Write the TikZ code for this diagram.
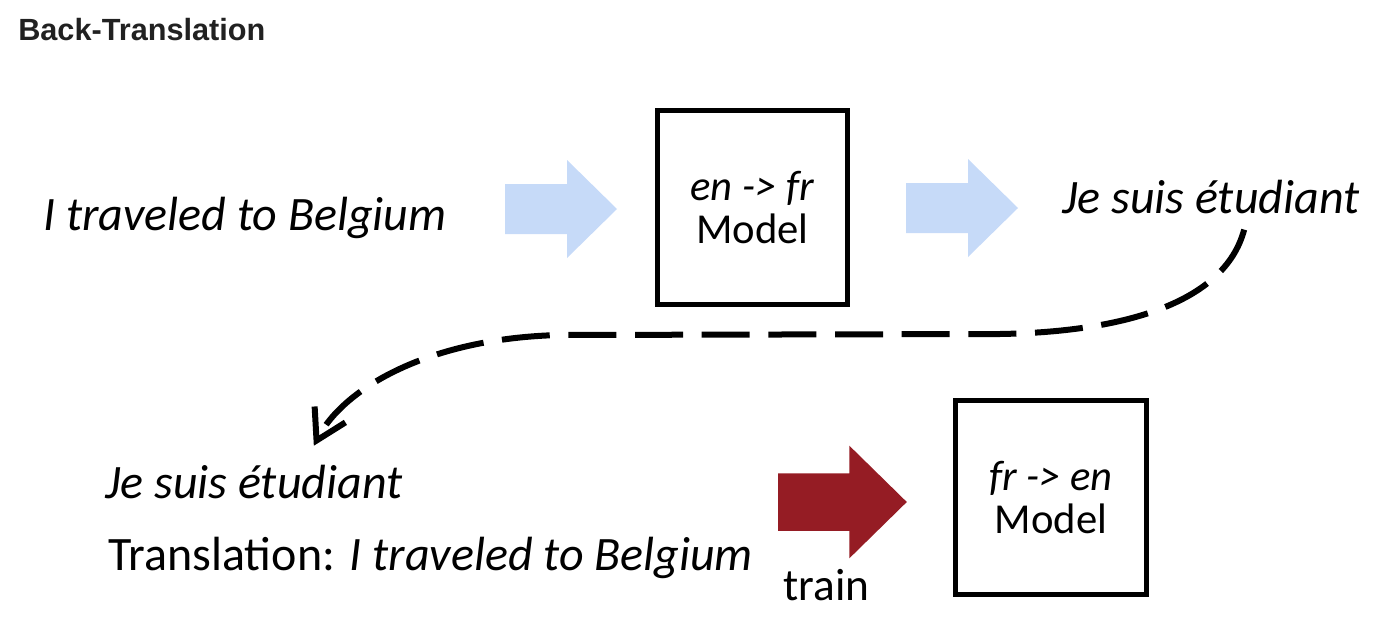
\documentclass[tikz,border=0pt]{standalone}
\usepackage{fontspec}
\setmainfont{Carlito}
\newfontfamily\headfont{Liberation Sans}
\usetikzlibrary{arrows.meta}
\definecolor{lightblue}{HTML}{C6DAF8}
\definecolor{darkred}{HTML}{951C24}
\definecolor{headgray}{HTML}{212121}
\tikzset{ txt/.style = { inner sep = 0pt
                       , anchor    = base west
                       , font      = \fontsize{36}{43}\selectfont
                       },
          mdl/.style = { draw
                       , line width     = 3.75pt
                       , minimum width  = 143pt
                       , minimum height = 146pt
                       , align          = center
                       , font           = \fontsize{32}{32}\selectfont
                       },
          back/.style = { draw = black
                        , line width   = 4.5pt
                        , dash pattern = on 36pt off 14pt
                        , -{Straight Barb[length=22pt, width=26pt]}
                        },
          blk/.pic = { \path[pic actions] (0,-25) -- (62,-25) -- (62,-49) -- (112,0)
                                          -- (62,49) -- (62,25) -- (0,25) -- cycle; }
        }
\begin{document}
\begin{tikzpicture}[x=0.75pt, y=-0.75pt]
    \useasboundingbox (0,0) rectangle (1378,628);
    \node[anchor=base west, inner sep=0pt, text=headgray,
          font=\headfont\bfseries\fontsize{23}{27}\selectfont] (title) at (18,40) {Back-Translation};

    % first pass: en -> fr
    \node[txt] (src) at (43,230) {\textit{I traveled to Belgium}};
    \pic[fill=lightblue] at (505,209) {blk};
    \node[mdl] (m1) at (752.5,207.5) {\textit{en -> fr}\\Model};
    \pic[fill=lightblue] at (906,208) {blk};
    \node[txt] (tgt) at (1062,213) {\textit{Je suis étudiant}};

    % second pass: fr -> en
    \node[txt] (cp) at (105,498) {\textit{Je suis étudiant}};
    \node[txt] (tr) at (108,570) {Translation: \textit{I traveled to Belgium}};
    \pic[fill=darkred, scale=1.15] at (778,502) {blk};
    \node[txt, font=\fontsize{34}{40}\selectfont] (train) at (783,600) {train};
    \node[mdl] (m2) at (1051,497.5) {\textit{fr -> en}\\Model};

    \draw[back] ([xshift=25pt,yshift=-12pt]tgt.south)
        .. controls +(-20,75) and +(120,-2) .. (1000,334)
        -- (560,335)
        .. controls +(-130,3) and +(30,-58) .. ([xshift=45pt,yshift=14pt]cp.north);
\end{tikzpicture}
\end{document}
